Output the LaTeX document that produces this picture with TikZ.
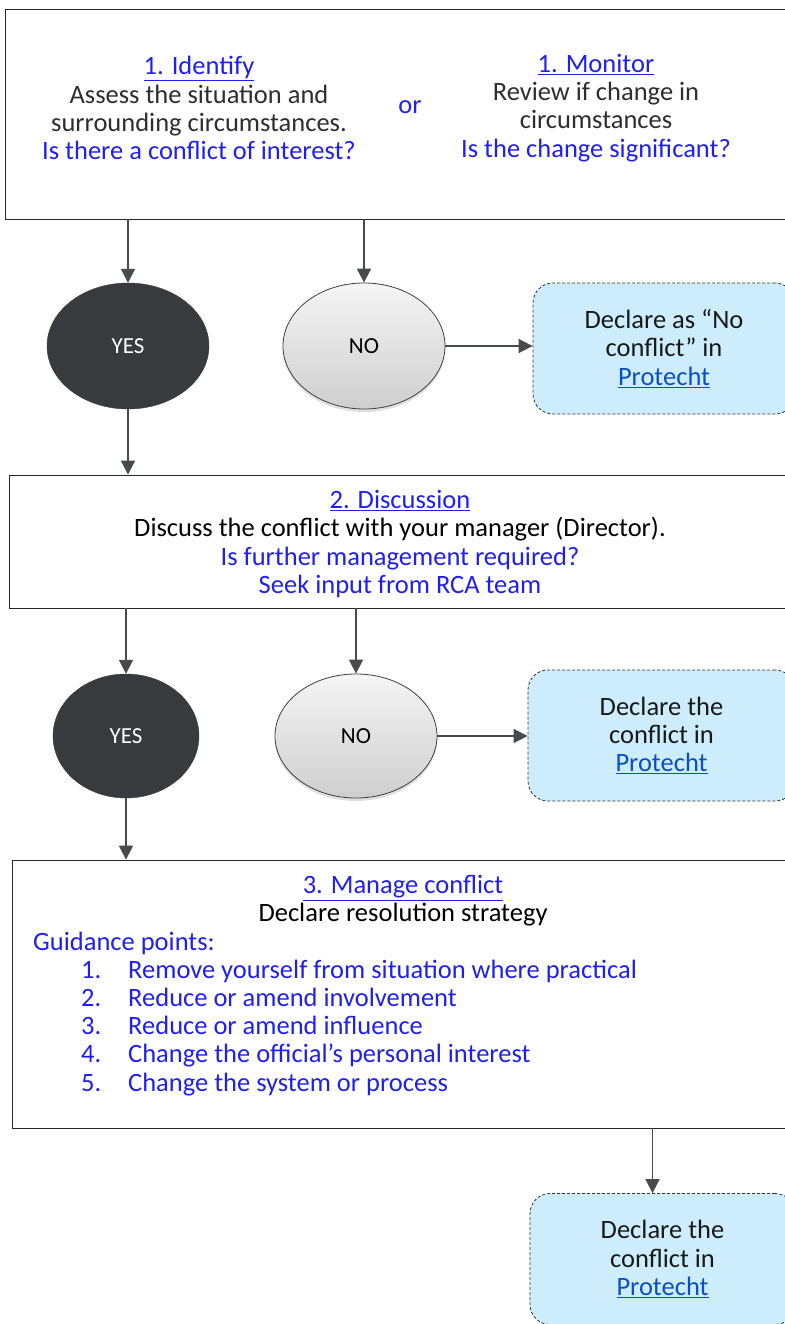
\documentclass[tikz,border=0pt]{standalone}
\usepackage{fontspec}
\setmainfont{Carlito}
\usetikzlibrary{arrows.meta, shapes.geometric, shadows}
\definecolor{qblue}{HTML}{1F1FF0}
\definecolor{linkblue}{HTML}{0B4FC6}
\definecolor{darkgrey}{HTML}{373B3E}
\definecolor{arrowgrey}{HTML}{474B4E}
\definecolor{paleblue}{HTML}{CDEDFC}
\definecolor{txtgrey}{HTML}{2E2E2E}
\newcommand{\steptitle}[1]{\textcolor{qblue}{\underline{#1}}}
\newcommand{\protecht}{\textcolor{linkblue}{\underline{Protecht}}}

\begin{document}
\begin{tikzpicture}[x=1pt, y=-1pt,
    every node/.style={font=\fontsize{26.5}{28.2}\selectfont, text=txtgrey},
    stepbox/.style={draw=black!85, line width=0.8pt, inner sep=0pt},
    yesnode/.style={ellipse, fill=darkgrey, draw=darkgrey, inner sep=0pt,
        font=\fontsize{23}{24}\selectfont, text=white},
    nonode/.style={ellipse, draw=black!75, line width=0.8pt, inner sep=0pt,
        top color=gray!8, bottom color=gray!38,
        drop shadow={opacity=0.25, shadow xshift=0pt, shadow yshift=-3pt},
        font=\fontsize{23}{24}\selectfont, text=black},
    declbox/.style={draw=black!80, dash pattern=on 3pt off 2pt, line width=0.8pt,
        rounded corners=20pt, fill=paleblue, align=center, text=black!90},
    flow/.style={draw=arrowgrey, line width=1.6pt, -{Triangle[length=14pt, width=14pt]}}]
\useasboundingbox (0,0) rectangle (784,1324);

\node[stepbox, minimum width=785, minimum height=210] (identify) at (397.5,114) {};
\node[align=center] (idtext) at (199,108) {\steptitle{1. Identify}\\ Assess the situation and\\ surrounding circumstances.\\ \textcolor{qblue}{Is there a conflict of interest?}};
\node[text=qblue] (or) at (410,107) {or};
\node[align=center] (montext) at (596,108) {\steptitle{1. Monitor}\\ Review if change in\\ circumstances\\ \textcolor{qblue}{Is the change significant?}};

\node[yesnode, minimum width=162, minimum height=126] (yes1) at (128,346) {YES};
\node[nonode, minimum width=162, minimum height=126] (no1) at (364,346) {NO};
\node[declbox, minimum width=262, minimum height=131] (decl1) at (664,348.5) {Declare as “No\\ conflict” in\\ \protecht};

\node[stepbox, minimum width=786, minimum height=133] (discuss) at (402,541.5) {};
\node[align=center] (distext) at (400,544) {\steptitle{2. Discussion}\\ \textcolor{black}{Discuss the conflict with your manager (Director).}\\ \textcolor{qblue}{Is further management required?}\\ \textcolor{qblue}{Seek input from RCA team}};

\node[yesnode, minimum width=146, minimum height=124] (yes2) at (126,736) {YES};
\node[nonode, minimum width=162, minimum height=124] (no2) at (356,736) {NO};
\node[declbox, minimum width=267, minimum height=131] (decl2) at (661.5,735.5) {Declare the\\ conflict in\\ \protecht};

\node[stepbox, minimum width=783, minimum height=268] (manage) at (403.5,994) {};
\node[align=center] (mantext) at (403,901) {\steptitle{3. Manage conflict}\\ \textcolor{black}{Declare resolution strategy}};
\node[anchor=base west, text=qblue, inner sep=0pt] (guide) at (33,950) {Guidance points:};
\foreach \point [count=\i] in {Remove yourself from situation where practical,
    Reduce or amend involvement, Reduce or amend influence,
    Change the official’s personal interest, Change the system or process} {
  \node[anchor=base west, text=qblue, inner sep=0pt] (num\i) at (81,950+28.2*\i) {\i.};
  \node[anchor=base west, text=qblue, inner sep=0pt] (point\i) at (128,950+28.2*\i) {\point};
}

\node[declbox, minimum width=265, minimum height=131] (decl3) at (662.5,1259) {Declare the\\ conflict in\\ \protecht};

\draw[flow] (identify.south -| yes1.north) -- (yes1.north);
\draw[flow] (identify.south -| no1.north) -- (no1.north);
\draw[flow] (no1.east) -- (no1.east -| decl1.west);
\draw[flow] (yes1.south) -- (yes1.south |- discuss.north);
\draw[flow] (discuss.south -| yes2.north) -- (yes2.north);
\draw[flow] (discuss.south -| no2.north) -- (no2.north);
\draw[flow] (no2.east) -- (no2.east -| decl2.west);
\draw[flow] (yes2.south) -- (yes2.south |- manage.north);
\draw[flow] ([xshift=-10pt]decl3.north |- manage.south) -- ([xshift=-10pt]decl3.north);
\end{tikzpicture}
\end{document}
